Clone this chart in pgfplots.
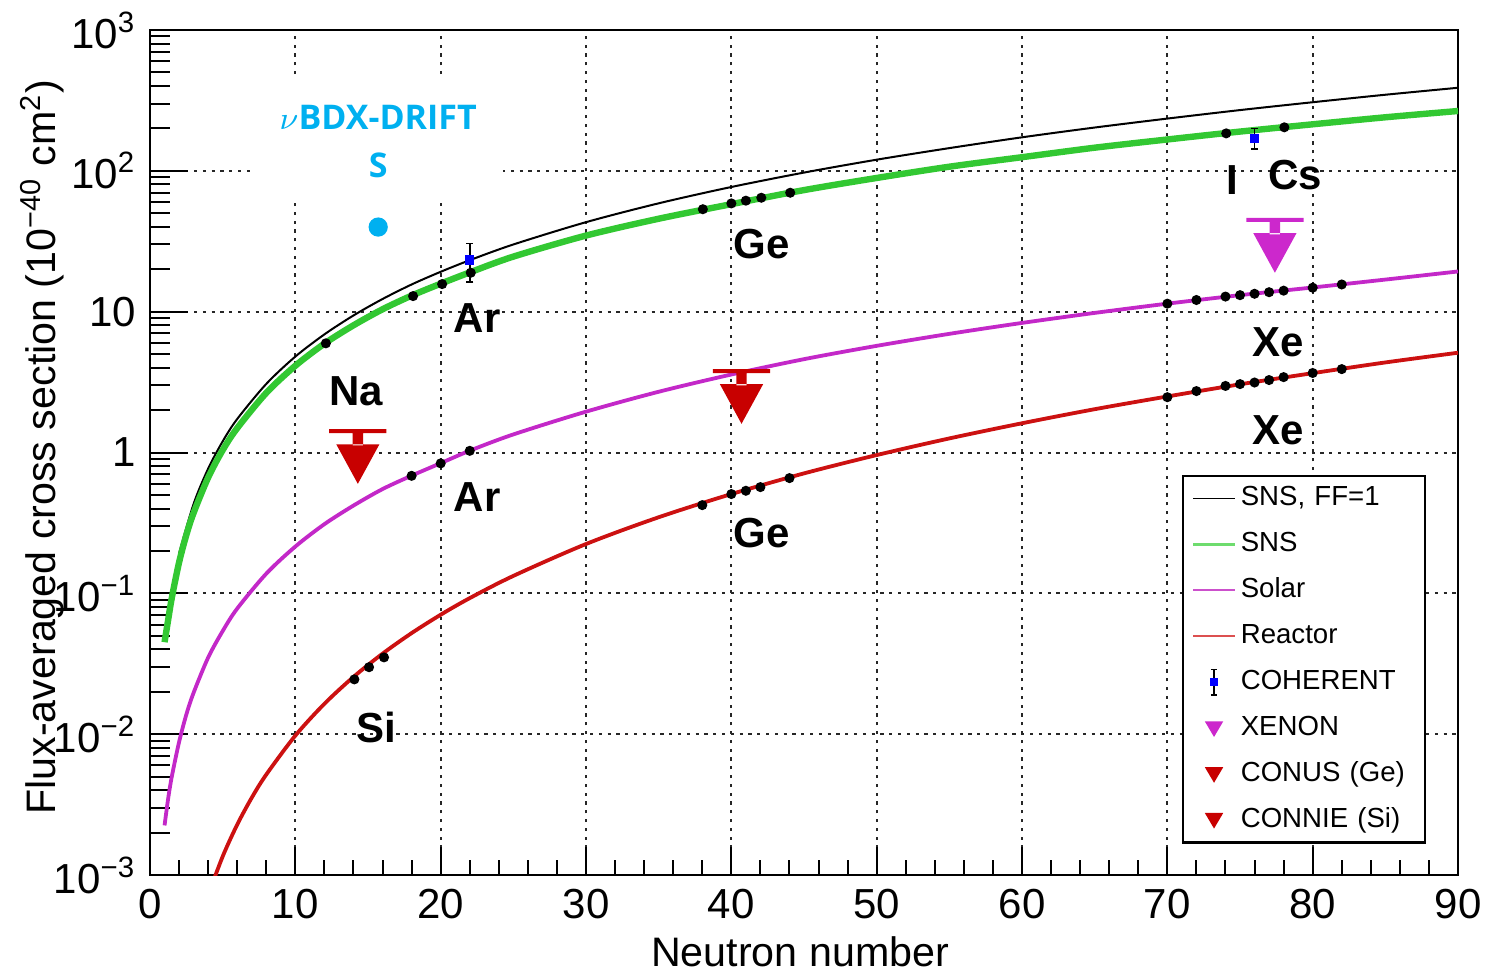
\documentclass[border=0pt]{standalone}
\usepackage{pgfplots}
\pgfplotsset{compat=1.18}
\usepackage{fontspec}
\setmainfont{Liberation Sans}
\newfontfamily\osans{Open Sans}
\definecolor{snsgreen}{RGB}{50,200,50}
\definecolor{snsleg}{RGB}{110,220,110}
\definecolor{solarm}{RGB}{195,40,200}
\definecolor{solarleg}{RGB}{204,80,204}
\definecolor{reactr}{RGB}{204,17,17}
\definecolor{reactleg}{RGB}{220,80,80}
\definecolor{cyanb}{RGB}{0,176,240}
\definecolor{xenonm}{RGB}{204,40,204}
\definecolor{conusr}{RGB}{200,0,0}
\pgfdeclareplotmark{ulim}{%
  \pgfpathrectangle{\pgfqpoint{-7.15pt}{-0.5pt}}{\pgfqpoint{14.3pt}{1pt}}%
  \pgfpathrectangle{\pgfqpoint{-1.3pt}{-3.6pt}}{\pgfqpoint{2.6pt}{3.3pt}}%
  \pgfpathmoveto{\pgfqpoint{-5.4pt}{-3.3pt}}%
  \pgfpathlineto{\pgfqpoint{5.4pt}{-3.3pt}}%
  \pgfpathlineto{\pgfqpoint{0pt}{-13.2pt}}%
  \pgfpathclose
  \pgfusepathqfill
}
\begin{document}
\begin{tikzpicture}
\begin{axis}[
  scale only axis, width=327pt, height=211.25pt,
  ymode=log, xmin=0, xmax=90, ymin=1e-3, ymax=1e3,
  xtick={0,10,...,90}, minor x tick num=4,
  ytick={1e-3,1e-2,1e-1,1,10,100,1000},
  yticklabels={10\textsuperscript{−3},10\textsuperscript{−2},10\textsuperscript{−1},1,10,10\textsuperscript{2},10\textsuperscript{3}},
  minor ytick={2e-3,3e-3,4e-3,5e-3,6e-3,7e-3,8e-3,9e-3,2e-2,3e-2,4e-2,5e-2,6e-2,7e-2,8e-2,9e-2,0.2,0.3,0.4,0.5,0.6,0.7,0.8,0.9,2,3,4,5,6,7,8,9,20,30,40,50,60,70,80,90,200,300,400,500,600,700,800,900},
  tick align=inside, tick pos=left,
  xtick style={/pgfplots/major tick length=7pt,/pgfplots/minor tick length=3.75pt,black,line width=0.5pt},
  ytick style={/pgfplots/major tick length=9.5pt,/pgfplots/minor tick length=5pt,black,line width=0.5pt},
  /pgf/number format/assume math mode=true,
  xticklabel style={font=\fontsize{10.5}{12}\selectfont, inner sep=0pt, yshift=-3.25pt},
  yticklabel style={font=\fontsize{10.5}{12}\selectfont, inner sep=0pt, xshift=-3.25pt},
  grid=major,
  major grid style={black!85, line width=0.5pt, dash pattern=on 0.8pt off 1.4pt},
  axis line style={line width=0.7pt},
  xlabel={Neutron number},
  ylabel={Flux-averaged cross section (10\textsuperscript{−40} cm\textsuperscript{2})},
  label style={font=\fontsize{10.3}{12}\selectfont},
  xlabel style={at={(axis description cs:0.497,-0.091)}, anchor=center},
  ylabel style={at={(axis description cs:-0.0826,0.5065)}, anchor=center},
  clip mode=individual,
  legend image code/.code={\path[draw=none,fill=none] (0pt,-3.2pt) rectangle (10.5pt,3.2pt); \draw[#1] (0pt,0pt) -- (10.5pt,0pt);},
  legend style={at={(rel axis cs:0.789,0.4734)}, anchor=north west, draw=black, line width=0.6pt,
    font=\fontsize{6.9}{8.2}\selectfont, inner xsep=2pt, inner ysep=2.3pt, row sep=4.85pt, column sep=1pt,
    nodes={inner sep=0pt, text width=44pt, align=left, text height=5.1pt, text depth=1.5pt}},
  legend cell align=left,
]
% legend entries
\addlegendimage{black, line width=0.4pt}
\addlegendentry{SNS, FF=1}
\addlegendimage{snsleg, line width=0.9pt}
\addlegendentry{SNS}
\addlegendimage{solarleg, line width=0.5pt}
\addlegendentry{Solar}
\addlegendimage{reactleg, line width=0.6pt}
\addlegendentry{Reactor}
\addlegendimage{legend image code/.code={\path[draw=none,fill=none] (0pt,-3.2pt) rectangle (10.5pt,3.2pt);
  \draw[black,line width=0.45pt] (5.25pt,-3.2pt) -- (5.25pt,3.2pt) (4.45pt,3.2pt) -- (6.05pt,3.2pt) (4.45pt,-3.2pt) -- (6.05pt,-3.2pt);
  \fill[blue,draw=none] (4.3pt,-1pt) rectangle (6.2pt,1pt);}}
\addlegendentry{COHERENT}
\addlegendimage{legend image code/.code={\path[draw=none,fill=none] (0pt,-3.2pt) rectangle (10.5pt,3.2pt);
  \fill[xenonm,draw=none] (2.95pt,1.8pt) -- (7.55pt,1.8pt) -- (5.25pt,-2.1pt) -- cycle;}}
\addlegendentry{XENON}
\addlegendimage{legend image code/.code={\path[draw=none,fill=none] (0pt,-3.2pt) rectangle (10.5pt,3.2pt);
  \fill[conusr,draw=none] (2.95pt,1.8pt) -- (7.55pt,1.8pt) -- (5.25pt,-2.1pt) -- cycle;}}
\addlegendentry{CONUS (Ge)}
\addlegendimage{legend image code/.code={\path[draw=none,fill=none] (0pt,-3.2pt) rectangle (10.5pt,3.2pt);
  \fill[conusr,draw=none] (2.95pt,1.8pt) -- (7.55pt,1.8pt) -- (5.25pt,-2.1pt) -- cycle;}}
\addlegendentry{CONNIE (Si)}

% SNS, FF=1
\addplot[black, line width=0.5pt, smooth, forget plot] coordinates {
(2,0.192)(3,0.432)(4,0.768)(5,1.2)(6,1.73)(8,3.07)(10,4.8)(12,6.9)(14,9.4)(16,12.3)(18,15.6)(20,19.2)(22,23.2)(25,30)(30,43.2)(35,58.8)(40,76.8)(45,97.2)(50,120)(55,145)(60,173)(65,203)(70,235)(75,270)(80,307)(85,347)(90,389)};
% SNS with form factor
\addplot[snsgreen, line width=1.6pt, smooth, forget plot] coordinates {
(1,0.045)(1.25,0.065)(1.5,0.093)(2,0.166)(2.5,0.26)(3,0.373)(4,0.664)(5,1.04)(6,1.49)(8,2.65)(10,4.13)(12,5.93)(14,8.0)(16,10.4)(18,13.0)(20,15.8)(22,19.0)(25,24.6)(30,34.7)(35,45.7)(40,58)(45,73)(50,89)(55,107)(60,125)(65,146)(70,167)(75,190)(80,214)(85,240)(90,266)};
% Solar
\addplot[solarm, line width=0.95pt, smooth, forget plot] coordinates {
(1,0.00225)(1.25,0.0035)(1.5,0.0050)(2,0.0088)(2.5,0.0138)(3,0.0197)(4,0.035)(5,0.054)(6,0.078)(8,0.138)(10,0.215)(12,0.31)(14,0.42)(16,0.55)(18,0.685)(20,0.84)(22,1.03)(25,1.344)(30,1.95)(35,2.70)(40,3.58)(45,4.60)(50,5.72)(55,6.96)(60,8.32)(65,9.80)(70,11.4)(75,13.1)(80,14.85)(85,16.9)(90,19.3)};
% Reactor
\addplot[reactr, line width=0.95pt, smooth, forget plot] coordinates {
(4,0.00072)(5,0.001355)(6,0.00228)(7,0.00354)(8,0.00517)(10,0.00977)(12,0.01644)(14,0.0255)(16,0.0373)(18,0.0522)(20,0.0705)(22,0.0925)(25,0.133)(30,0.224)(35,0.347)(40,0.507)(45,0.711)(50,0.959)(55,1.259)(60,1.613)(65,2.03)(70,2.50)(75,3.05)(80,3.66)(85,4.36)(90,5.11)};
% isotope points
\addplot[only marks, mark=*, mark size=1.05pt, black, forget plot] coordinates {
(12.1,5.96)(18.1,12.9)(20.1,15.7)(22.07,18.9)(38.04,53.4)(40,58.7)(41,61.4)(42.06,64.4)(44.05,69.9)(74.05,184.5)(78.05,203.7)};
\addplot[only marks, mark=*, mark size=1.05pt, black, forget plot] coordinates {
(18,0.683)(20,0.837)(22,1.028)(70,11.4)(72,12.1)(74,12.8)(75,13.1)(76,13.4)(77,13.75)(78,14.1)(80,14.8)(82,15.6)};
\addplot[only marks, mark=*, mark size=1.05pt, black, forget plot] coordinates {
(14.06,0.0245)(15.07,0.0299)(16.1,0.0351)(38,0.423)(40,0.507)(41,0.535)(42,0.568)(44,0.658)(70,2.47)(72,2.73)(74,2.97)(75,3.06)(76,3.14)(77,3.27)(78,3.43)(80,3.67)(82,3.91)};
% upper limits
\addplot[only marks, mark=ulim, xenonm, forget plot] coordinates {(77.4,44.8)};
\addplot[only marks, mark=ulim, conusr, forget plot] coordinates {(40.7,3.79)};
\addplot[only marks, mark=ulim, conusr, forget plot] coordinates {(14.3,1.42)};
% COHERENT
\addplot[only marks, mark=square*, mark size=0.95pt, blue, forget plot,
  error bars/.cd, y dir=both, y explicit, error bar style={black, line width=0.45pt},
  error mark options={black, mark size=0.9pt, line width=0.45pt, rotate=90}] coordinates {
(22,23.3) += (0,7.2) -= (0,7.0)
(76,170) += (0,30) -= (0,28)};
% labels
\begin{scope}[every node/.style={font=\bfseries\fontsize{10.5}{12}\selectfont, inner sep=0pt}]
\node at (axis cs:22.5,9.0) {Ar};
\node at (axis cs:14.2,2.73) {Na};
\node at (axis cs:22.5,0.482) {Ar};
\node at (axis cs:42.1,30.2) {Ge};
\node at (axis cs:42.1,0.268) {Ge};
\node at (axis cs:15.6,0.0112) {Si};
\node at (axis cs:74.5,86) {I};
\node at (axis cs:78.8,93.3) {Cs};
\node at (axis cs:77.6,6.08) {Xe};
\node at (axis cs:77.6,1.44) {Xe};
\end{scope}
\fill[white] (axis cs:7.1,60) rectangle (axis cs:24.3,441);
\node[text=cyanb, font=\osans\bfseries\fontsize{8.5}{10}\selectfont, inner sep=0pt] at (axis cs:15.7,241) {$\nu$BDX-DRIFT};
\node[text=cyanb, font=\osans\bfseries\fontsize{8.5}{10}\selectfont, inner sep=0pt] at (axis cs:15.7,110) {S};
\addplot[only marks, mark=*, mark size=2.2pt, cyanb, forget plot] coordinates {(15.7,39.9)};
\coordinate (bbl) at (rel axis cs:-0.1147,-0.1172);
\coordinate (btr) at (rel axis cs:1.0214,1.0355);
\end{axis}
\pgfresetboundingbox
\path (bbl) rectangle (btr);
\end{tikzpicture}
\end{document}
